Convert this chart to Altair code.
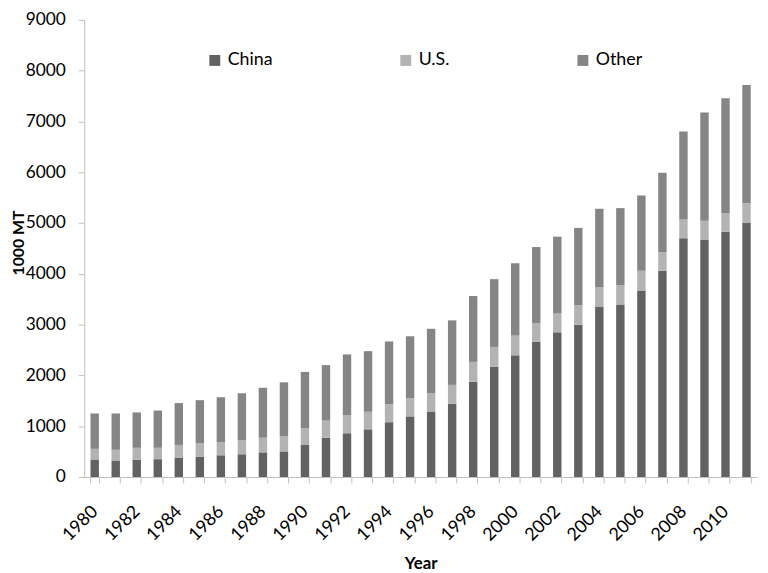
import altair as alt
import pandas as pd

years = list(range(1980, 2012))
china = [345, 326, 339, 351, 383, 396, 428, 447, 485, 504, 639, 773, 862, 939, 1079, 1194,
         1290, 1443, 1877, 2171, 2395, 2663, 2848, 2995, 3346, 3397, 3672, 4061, 4700, 4674, 4828, 5000]
us_top = [555, 536, 575, 575, 632, 670, 690, 728, 773, 805, 958, 1111, 1213, 1284, 1430, 1552,
          1648, 1814, 2267, 2561, 2784, 3033, 3218, 3385, 3736, 3780, 4061, 4425, 5071, 5045, 5186, 5389]
total = [1251, 1251, 1271, 1309, 1456, 1513, 1571, 1648, 1756, 1865, 2069, 2203, 2414, 2478, 2669, 2771,
         2918, 3084, 3563, 3895, 4209, 4527, 4732, 4904, 5281, 5294, 5543, 5990, 6801, 7178, 7458, 7720]
us = [u - c for u, c in zip(us_top, china)]
other = [t - u for t, u in zip(total, us_top)]

series = ["China", "U.S.", "Other"]
colors = ["#626262", "#b3b3b3", "#858585"]

rows = []
for i, y in enumerate(years):
    for k, (name, vals) in enumerate(zip(series, [china, us, other])):
        rows.append({"Year": y, "Series": name, "Value": vals[i], "order": k})
df = pd.DataFrame(rows)

FONT = "Lato"

chart = alt.Chart(df).mark_bar().encode(
    x=alt.X("Year:O",
            title="Year",
            scale=alt.Scale(paddingInner=0.6, paddingOuter=0.3),
            axis=alt.Axis(labelAngle=-45, labelAlign="right", labelBaseline="middle",
                          labelExpr="datum.value % 2 == 0 ? datum.label : ''",
                          labelOverlap=False, labelFontSize=18, labelFont=FONT, labelColor="#000000",
                          labelPadding=26,
                          tickBand="extent", tickSize=6, tickColor="#bfbfbf",
                          domainColor="#bfbfbf",
                          titleFontSize=17, titleFont=FONT, titleFontWeight="bold", titlePadding=12,
                          titleColor="#000000")),
    y=alt.Y("Value:Q",
            stack="zero",
            title="1000 MT",
            scale=alt.Scale(domain=[0, 9000], nice=False),
            axis=alt.Axis(values=list(range(0, 9001, 1000)), grid=False, format="d",
                          labelFontSize=17.5, labelFont=FONT, labelColor="#000000", labelPadding=13,
                          tickSize=6, tickColor="#bfbfbf", domainColor="#bfbfbf",
                          titleFontSize=16, titleFont=FONT, titleFontWeight="bold",
                          titleX=-58, titleY=225,
                          titleColor="#000000")),
    color=alt.Color("Series:N",
                    scale=alt.Scale(domain=series, range=colors),
                    legend=alt.Legend(title=None, orient="none", legendX=123, legendY=32,
                                      direction="horizontal", columns=3, gridAlign="each",
                                      columnPadding=125, symbolType="square", symbolSize=121,
                                      symbolStrokeWidth=0,
                                      labelFontSize=18, labelFont=FONT, labelColor="#000000",
                                      labelOffset=4)),
    order=alt.Order("order:Q", sort="ascending"),
).properties(
    width=680, height=462,
    padding={"left": 77, "top": 9, "right": 3, "bottom": 94},
    autosize="none",
).configure_view(stroke=None)

chart.save("out.html", embed_options={"renderer": "svg", "actions": False})
